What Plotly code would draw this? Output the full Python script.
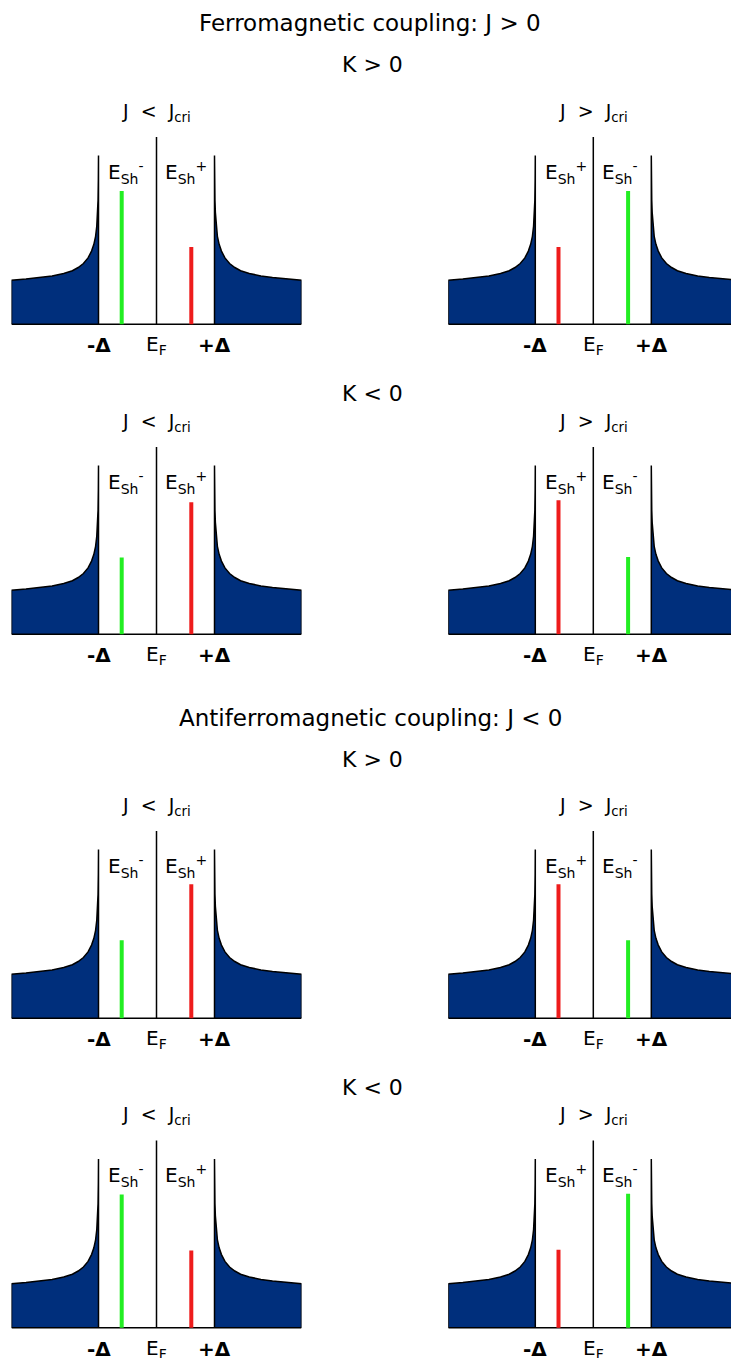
import plotly.graph_objects as go

W, H = 731, 1358

# ---------------- data ----------------
# BCS-like density of states for |E| >= Delta (energies in units of Delta, DOS in a.u.)
dos_energy = [1.0, 1.003, 1.008, 1.015, 1.03, 1.05, 1.08, 1.12, 1.18, 1.26,
              1.35, 1.45, 1.6, 1.8, 2.0, 2.25, 2.5]
dos_value = [4.22, 3.6, 3.1, 2.8, 2.45, 2.2, 2.0, 1.83, 1.66, 1.52,
             1.42, 1.34, 1.27, 1.21, 1.17, 1.13, 1.1]
fermi_line_height = 4.68

section_titles = ["Ferromagnetic coupling: J &gt; 0", "Antiferromagnetic coupling: J &lt; 0"]
row_titles = ["K &gt; 0", "K &lt; 0", "K &gt; 0", "K &lt; 0"]
col_titles = ["J&nbsp; &lt; &nbsp;J<sub>cri</sub>", "J&nbsp; &gt; &nbsp;J<sub>cri</sub>"]
energy_tick_labels = ["<b>-Δ</b>", "E<sub>F</sub>", "<b>+Δ</b>"]
energy_tick_pos = [-1.0, 0.0, 1.0]

# Shiba peaks: energy position and weight for each panel (row, col)
green_energy = [[-0.6, 0.6], [-0.6, 0.6], [-0.6, 0.6], [-0.6, 0.6]]
green_height = [[3.33, 3.33], [1.92, 1.93], [1.95, 1.95], [3.33, 3.35]]
red_energy = [[0.6, -0.6], [0.6, -0.6], [0.6, -0.6], [0.6, -0.6]]
red_height = [[1.93, 1.93], [3.3, 3.35], [3.35, 3.35], [1.93, 1.95]]
green_label = "E<sub>Sh</sub><sup>-</sup>"
red_label = "E<sub>Sh</sub><sup>+</sup>"

# ---------------- layout geometry (pixels) ----------------
row_baseline_px = [324.3, 634.3, 1018.3, 1327.8]
col_ef_px = [156.5, 593.3]
delta_px = 58.0
px_per_unit = 40.0
x_half = 2.5
Y_LO, Y_HI = -0.9, 5.7

NAVY = "#002F7C"
GREEN = "#22EE22"
RED = "#EE1C1C"
FONT = "DejaVu Sans"

fig = go.Figure()
annotations = []


def yfrac(px):
    return 1 - px / H


neg_e = [-e for e in dos_energy]
idx = 0
for r in range(4):
    for c in range(2):
        idx += 1
        xa = "x" if idx == 1 else f"x{idx}"
        ya = "y" if idx == 1 else f"y{idx}"
        xl = "xaxis" if idx == 1 else f"xaxis{idx}"
        yl = "yaxis" if idx == 1 else f"yaxis{idx}"
        ef = col_ef_px[c]
        left_px = ef - x_half * delta_px
        right_px = min(ef + x_half * delta_px, W)
        x_max = (right_px - ef) / delta_px
        base = row_baseline_px[r]
        bottom_px = min(base - Y_LO * px_per_unit, H)
        y_lo = (base - bottom_px) / px_per_unit
        top_px = base - Y_HI * px_per_unit
        fig.update_layout(**{
            xl: dict(domain=[left_px / W, right_px / W], range=[-x_half, x_max],
                     visible=False, anchor=ya, fixedrange=True),
            yl: dict(domain=[yfrac(bottom_px), yfrac(top_px)],
                     range=[y_lo, Y_HI], visible=False, anchor=xa, fixedrange=True),
        })
        # left DOS lobe (closed polygon)
        lx = [-x_half] + neg_e[::-1] + [-1.0]
        ly = [0.0] + dos_value[::-1] + [0.0]
        fig.add_trace(go.Scatter(x=lx, y=ly, mode="lines", fill="toself", fillcolor=NAVY,
                                 line=dict(color="black", width=1.5), xaxis=xa, yaxis=ya,
                                 hoverinfo="skip", showlegend=False))
        rx = [1.0] + dos_energy + [x_half]
        ry = [0.0] + dos_value + [0.0]
        fig.add_trace(go.Scatter(x=rx, y=ry, mode="lines", fill="toself", fillcolor=NAVY,
                                 line=dict(color="black", width=1.5), xaxis=xa, yaxis=ya,
                                 hoverinfo="skip", showlegend=False))
        # baseline
        fig.add_trace(go.Scatter(x=[-x_half, x_half], y=[0, 0], mode="lines",
                                 line=dict(color="black", width=1.5), xaxis=xa, yaxis=ya,
                                 hoverinfo="skip", showlegend=False))
        # Fermi level line
        fig.add_trace(go.Scatter(x=[0, 0], y=[0, fermi_line_height], mode="lines",
                                 line=dict(color="black", width=1.5), xaxis=xa, yaxis=ya,
                                 hoverinfo="skip", showlegend=False))
        # Shiba peaks
        ge, gh = green_energy[r][c], green_height[r][c]
        re_, rh = red_energy[r][c], red_height[r][c]
        fig.add_trace(go.Scatter(x=[ge, ge], y=[0, gh], mode="lines",
                                 line=dict(color=GREEN, width=4), xaxis=xa, yaxis=ya,
                                 hoverinfo="skip", showlegend=False))
        fig.add_trace(go.Scatter(x=[re_, re_], y=[0, rh], mode="lines",
                                 line=dict(color=RED, width=4), xaxis=xa, yaxis=ya,
                                 hoverinfo="skip", showlegend=False))
        # peak labels (left one / right one)
        if ge < re_:
            lab_left, lab_right = green_label, red_label
        else:
            lab_left, lab_right = red_label, green_label
        annotations.append(dict(x=-0.87, y=3.8, xref=xa, yref=ya, text=lab_left,
                                showarrow=False, xanchor="left", yanchor="middle",
                                font=dict(family=FONT, size=20, color="black")))
        annotations.append(dict(x=0.11, y=3.8, xref=xa, yref=ya, text=lab_right,
                                showarrow=False, xanchor="left", yanchor="middle",
                                font=dict(family=FONT, size=20, color="black")))
        # column title
        annotations.append(dict(x=0.0, y=5.3, xref=xa, yref=ya, text=col_titles[c],
                                showarrow=False, xanchor="center", yanchor="middle",
                                font=dict(family=FONT, size=19, color="black")))
        # energy labels
        for pos, lab in zip(energy_tick_pos, energy_tick_labels):
            annotations.append(dict(x=pos, y=-0.52, xref=xa, yref=ya, text=lab,
                                    showarrow=False, xanchor="center", yanchor="middle",
                                    font=dict(family=FONT, size=20, color="black")))

# section & row titles (paper coordinates)
section_y_px = [23, 718]
for t, ypx in zip(section_titles, section_y_px):
    annotations.append(dict(x=370 / W, y=yfrac(ypx), xref="paper", yref="paper", text=t,
                            showarrow=False, xanchor="center", yanchor="middle",
                            font=dict(family=FONT, size=23, color="black")))
row_title_y_px = [64, 393, 759, 1087]
for t, ypx in zip(row_titles, row_title_y_px):
    annotations.append(dict(x=372 / W, y=yfrac(ypx), xref="paper", yref="paper", text=t,
                            showarrow=False, xanchor="center", yanchor="middle",
                            font=dict(family=FONT, size=22, color="black")))

fig.update_layout(width=W, height=H, margin=dict(l=0, r=0, t=0, b=0),
                  paper_bgcolor="white", plot_bgcolor="rgba(0,0,0,0)",
                  showlegend=False, annotations=annotations)

fig.write_html("out.html", config={"displayModeBar": False})
